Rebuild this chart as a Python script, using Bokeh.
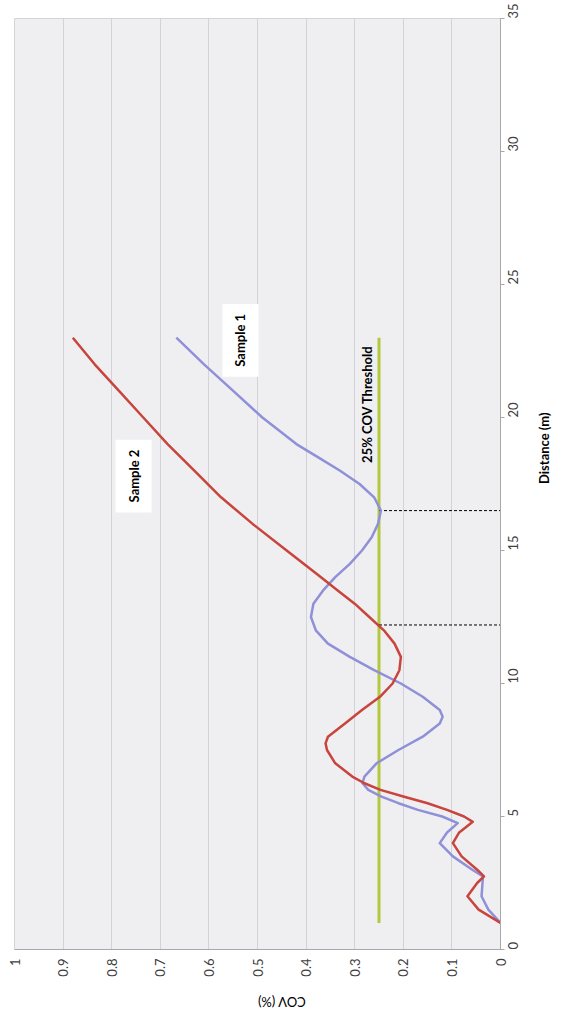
import math
from bokeh.plotting import figure
from bokeh.models import Range1d, FixedTicker, Label
from bokeh.embed import file_html
from bokeh.resources import INLINE

# ---- data read from the (rotated) reference chart ----
# Sample 1 (blue): distance (m) and COV
s1_dist = [1, 1.5, 2, 2.5, 2.75, 3, 3.5, 4, 4.4, 4.75, 5, 5.25, 5.5, 5.75, 6, 6.25, 6.5,
           7, 7.5, 8, 8.5, 8.75, 9, 9.5, 10, 10.5, 11, 11.5, 12, 12.5, 13, 13.5, 14,
           14.5, 15, 15.5, 16, 16.5, 17, 17.5, 18, 18.5, 19, 20, 21, 22, 23]
s1_cov = [0, 0.025, 0.039, 0.037, 0.036, 0.058, 0.098, 0.125, 0.11, 0.088, 0.12, 0.17,
          0.21, 0.245, 0.272, 0.284, 0.28, 0.255, 0.21, 0.16, 0.125, 0.119, 0.125, 0.16,
          0.205, 0.26, 0.31, 0.355, 0.38, 0.39, 0.385, 0.365, 0.34, 0.31, 0.285, 0.265,
          0.252, 0.246, 0.26, 0.29, 0.33, 0.375, 0.42, 0.49, 0.55, 0.61, 0.667]

# Sample 2 (red)
s2_dist = [1, 1.5, 2, 2.5, 2.75, 3, 3.5, 4, 4.4, 4.8, 5, 5.25, 5.5, 5.75, 6, 6.25, 6.5,
           7, 7.5, 7.75, 8, 8.5, 9, 9.5, 10, 10.5, 11, 11.5, 12, 12.5, 13, 13.5, 14,
           15, 16, 17, 18, 19, 20, 21, 22, 23]
s2_cov = [0, 0.045, 0.068, 0.048, 0.034, 0.048, 0.08, 0.098, 0.085, 0.057, 0.075, 0.11,
          0.15, 0.2, 0.247, 0.28, 0.305, 0.34, 0.357, 0.36, 0.355, 0.32, 0.285, 0.248,
          0.222, 0.208, 0.205, 0.218, 0.24, 0.27, 0.3, 0.335, 0.37, 0.44, 0.51, 0.575,
          0.63, 0.685, 0.735, 0.785, 0.835, 0.88]

# 25% COV threshold line
threshold_cov = 0.25
threshold_dist = [1, 23]

# distances where the samples cross the threshold (dashed markers)
crossing_dist = [16.5, 12.2]

cov_ticks = [0, 0.1, 0.2, 0.3, 0.4, 0.5, 0.6, 0.7, 0.8, 0.9, 1]
cov_tick_labels = ["0", "0.1", "0.2", "0.3", "0.4", "0.5", "0.6", "0.7", "0.8", "0.9", "1"]
dist_ticks = [0, 5, 10, 15, 20, 25, 30, 35]

FONT = "Lato"

p = figure(width=562, height=1020, output_backend="svg", toolbar_location=None,
           x_range=Range1d(1, 0), y_range=Range1d(0, 35),
           x_axis_location="below", y_axis_location="right")
p.min_border_left = 14
p.min_border_right = 59
p.min_border_top = 18
p.min_border_bottom = 68

p.background_fill_color = "#efeff2"
p.border_fill_color = "white"
p.outline_line_color = "#d4d4d8"

# grid: only lines at each COV tick
p.xgrid.ticker = FixedTicker(ticks=cov_ticks)
p.xgrid.grid_line_color = "#d2d2d8"
p.xgrid.grid_line_width = 1
p.ygrid.grid_line_color = None

# COV axis (bottom)
xa = p.xaxis[0]
xa.ticker = FixedTicker(ticks=cov_ticks)
xa.major_label_overrides = {t: l for t, l in zip(cov_ticks, cov_tick_labels)}
xa.major_label_orientation = math.pi / 2
xa.major_tick_out = 0
xa.major_tick_in = 0
xa.minor_tick_out = 0
xa.minor_tick_in = 0
xa.axis_line_color = "#a8a8a8"
xa.major_label_standoff = 9
xa.major_label_text_font = FONT
xa.major_label_text_font_size = "13px"
xa.major_label_text_color = "#404040"

# Distance axis (right)
ya = p.yaxis[0]
ya.ticker = FixedTicker(ticks=dist_ticks)
ya.major_label_orientation = math.pi / 2
ya.major_tick_out = 4
ya.major_tick_in = 0
ya.minor_tick_out = 0
ya.minor_tick_in = 0
ya.major_tick_line_color = "#a8a8a8"
ya.axis_line_color = "#a8a8a8"
ya.major_label_standoff = 8
ya.major_label_text_font = FONT
ya.major_label_text_font_size = "13px"
ya.major_label_text_color = "#404040"

# axis titles (rotated like the scanned page)
try:
    ya.axis_label = "Distance (m)"
    ya.axis_label_orientation = math.pi / 2
    ya.axis_label_standoff = 18
    ya.axis_label_text_font = FONT
    ya.axis_label_text_font_size = "13px"
    ya.axis_label_text_font_style = "bold"
    ya.axis_label_text_color = "black"
    xa.axis_label = "COV (%)"
    xa.axis_label_orientation = math.pi
    xa.axis_label_standoff = 22
    xa.axis_label_text_font = FONT
    xa.axis_label_text_font_size = "13px"
    xa.axis_label_text_font_style = "normal"
    xa.axis_label_text_color = "black"
except AttributeError:
    ya.axis_label = None
    xa.axis_label = None
    p.add_layout(Label(x=-0.106, y=17.8, text="Distance (m)", angle=math.pi / 2,
                       text_align="center", text_baseline="middle", text_font=FONT,
                       text_font_size="13px", text_font_style="bold", text_color="black"))
    p.add_layout(Label(x=0.49, y=-2.3, text="COV (%)", angle=math.pi,
                       text_align="center", text_baseline="middle", text_font=FONT,
                       text_font_size="13px", text_color="black"))

# threshold line
p.line([threshold_cov, threshold_cov], threshold_dist, line_color="#b4c83c", line_width=3)

# dashed crossing markers
p.segment(x0=[threshold_cov] * len(crossing_dist), x1=[0] * len(crossing_dist),
          y0=crossing_dist, y1=crossing_dist,
          line_color="black", line_width=1, line_dash="3 2")

# series
p.line(s1_cov, s1_dist, line_color="#8f90d8", line_width=2.5, line_join="round")
p.line(s2_cov, s2_dist, line_color="#c8443c", line_width=2.5, line_join="round")

# in-chart labels
def add_label(x, y, text, box=True, size="13px", pad=5):
    kw = dict(x=x, y=y, text=text, angle=math.pi / 2, text_align="center",
              text_baseline="middle", text_font=FONT, text_font_size=size,
              text_font_style="bold", text_color="black")
    if box:
        kw.update(background_fill_color="white", border_line_color=None, padding=pad)
    p.add_layout(Label(**kw))

add_label(0.535, 22.9, "Sample 1", pad=10)
add_label(0.755, 17.8, "Sample 2", pad=10)
add_label(0.274, 20.5, "25% COV Threshold", box=False)

open("out.html", "w").write(file_html(p, INLINE))
